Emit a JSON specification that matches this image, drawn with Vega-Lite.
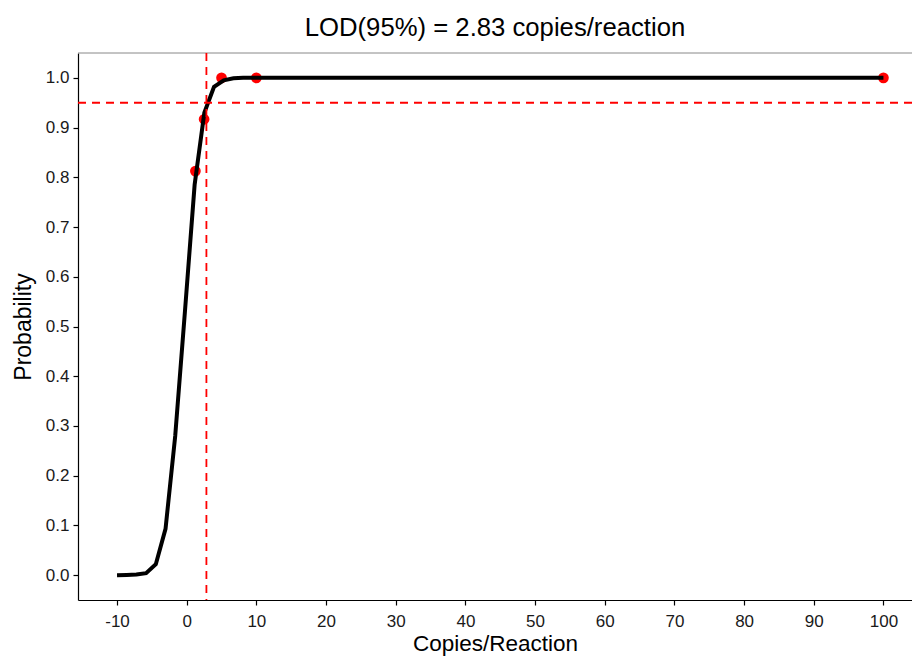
{
  "$schema": "https://vega.github.io/schema/vega-lite/v6.json",
  "autosize": "none",
  "width": 834,
  "height": 547,
  "padding": {"left": 78, "top": 53, "right": 0, "bottom": 56},
  "background": "white",
  "config": {
    "view": {"stroke": null},
    "font": "Liberation Sans",
    "axis": {"grid": false, "domainColor": "black", "domainWidth": 1.2, "tickColor": "black", "tickWidth": 1.2, "tickSize": 5, "labelColor": "#1a1a1a", "labelFontSize": 17, "labelFont": "Liberation Sans", "titleFont": "Liberation Sans", "titleFontWeight": "normal", "titleFontSize": 23, "titleColor": "black", "labelPadding": 4}
  },
  "title": {"text": "LOD(95%) = 2.83 copies/reaction", "fontSize": 25.7, "fontWeight": "normal", "font": "Liberation Sans", "color": "black", "anchor": "middle", "offset": 10},
  "datasets": {
    "curve": [
      {"copies": -10.0, "prob": 0.0},
      {"copies": -8.608, "prob": 0.0005},
      {"copies": -7.215, "prob": 0.0012},
      {"copies": -5.823, "prob": 0.004},
      {"copies": -4.43, "prob": 0.022},
      {"copies": -3.038, "prob": 0.093},
      {"copies": -1.646, "prob": 0.28},
      {"copies": -0.253, "prob": 0.53},
      {"copies": 1.139, "prob": 0.785},
      {"copies": 2.532, "prob": 0.93},
      {"copies": 3.924, "prob": 0.982},
      {"copies": 5.316, "prob": 0.995},
      {"copies": 6.709, "prob": 0.999},
      {"copies": 8.101, "prob": 1.0},
      {"copies": 9.494, "prob": 1.0},
      {"copies": 20.0, "prob": 1.0},
      {"copies": 40.0, "prob": 1.0},
      {"copies": 60.0, "prob": 1.0},
      {"copies": 80.0, "prob": 1.0},
      {"copies": 100.0, "prob": 1.0}
    ],
    "obs": [
      {"copies": 1.25, "prob": 0.8125},
      {"copies": 2.5, "prob": 0.9167},
      {"copies": 5, "prob": 1.0},
      {"copies": 10, "prob": 1.0},
      {"copies": 100, "prob": 1.0}
    ],
    "lod": [{"copies": 2.83}],
    "level": [{"prob": 0.95}],
    "top": [{"prob": 1.05}]
  },
  "layer": [
    {
      "data": {"name": "top"},
      "mark": {"type": "rule", "color": "#888888", "strokeWidth": 1},
      "encoding": {"y": {"field": "prob", "type": "quantitative"}}
    },
    {
      "data": {"name": "obs"},
      "mark": {"type": "point", "filled": true, "color": "#ff0000", "opacity": 1, "size": 115},
      "encoding": {
        "x": {"field": "copies", "type": "quantitative", "scale": {"domain": [-15.6, 104.1], "nice": false, "zero": false},
          "axis": {"values": [-10, 0, 10, 20, 30, 40, 50, 60, 70, 80, 90, 100], "labelExpr": "datum.value < 0 ? '-' + abs(datum.value) : '' + datum.value", "title": "Copies/Reaction", "labelPadding": 8, "titlePadding": 3, "titleFontSize": 22.5}},
        "y": {"field": "prob", "type": "quantitative", "scale": {"domain": [-0.05, 1.05], "nice": false, "zero": false},
          "axis": {"values": [0, 0.1, 0.2, 0.3, 0.4, 0.5, 0.6, 0.7, 0.8, 0.9, 1.0], "format": ".1f", "title": "Probability", "titlePadding": 10}}
      }
    },
    {
      "data": {"name": "curve"},
      "mark": {"type": "line", "color": "black", "strokeWidth": 4},
      "encoding": {
        "x": {"field": "copies", "type": "quantitative"},
        "y": {"field": "prob", "type": "quantitative"}
      }
    },
    {
      "data": {"name": "level"},
      "mark": {"type": "rule", "color": "#ff0000", "strokeWidth": 1.8, "strokeDash": [8, 6]},
      "encoding": {"y": {"field": "prob", "type": "quantitative"}}
    },
    {
      "data": {"name": "lod"},
      "mark": {"type": "rule", "color": "#ff0000", "strokeWidth": 1.8, "strokeDash": [8, 6]},
      "encoding": {"x": {"field": "copies", "type": "quantitative"}}
    }
  ]
}
